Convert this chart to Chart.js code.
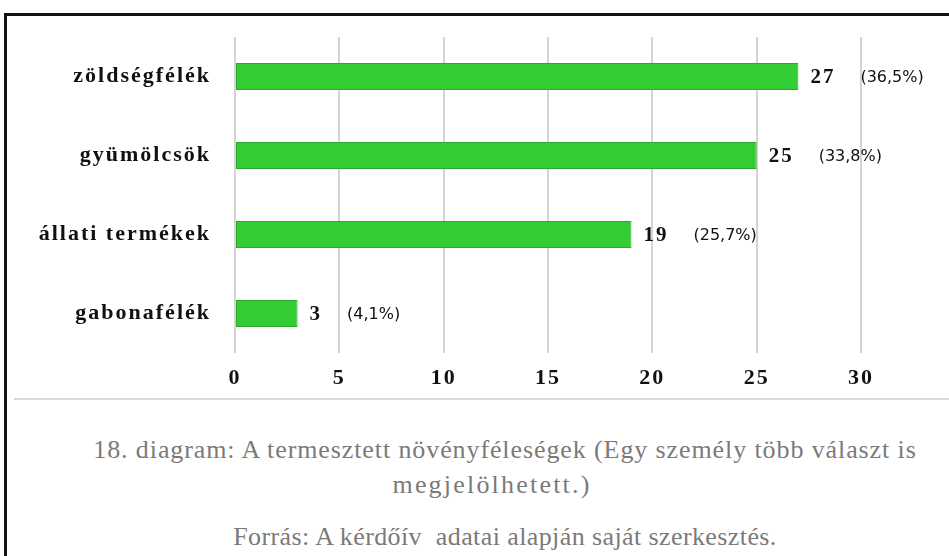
<!DOCTYPE html>
<html>
<head>
<meta charset="utf-8">
<script src="https://cdn.jsdelivr.net/npm/chart.js@4"></script>
<style>
  body { margin: 0; background: #fff; width: 949px; height: 556px; overflow: hidden; position: relative; }
  #frame { position: absolute; left: 4px; top: 13px; width: 1000px; height: 600px; border: 3px solid #111; box-sizing: border-box; }
  #sep { position: absolute; left: 14px; top: 398px; width: 940px; height: 2px; background: #d9d9d9; }
  #chart { position: absolute; left: 0; top: 0; }
  .cap { position: absolute; left: 0; width: 1010px; text-align: center; font-family: "Liberation Serif", "Times New Roman", serif; font-size: 26px; letter-spacing: 0.9px; color: #7a7a7a; white-space: nowrap; }
</style>
</head>
<body>
<div id="frame"></div>
<div id="sep"></div>
<canvas id="chart" width="949" height="400"></canvas>
<div class="cap" style="top:435px">18. diagram: A termesztett növényféleségek (Egy személy több választ is</div>
<div class="cap" style="top:470px;width:984px;letter-spacing:2.2px">megjelölhetett.)</div>
<div class="cap" style="top:522px;letter-spacing:0.4px">Forrás: A kérdőív&nbsp; adatai alapján saját szerkesztés.</div>
<script>
// categories and values
var categories = ['zöldségfélék', 'gyümölcsök', 'állati termékek', 'gabonafélék'];
var counts = [27, 25, 19, 3];
var shares = ['(36,5%)', '(33,8%)', '(25,7%)', '(4,1%)'];
var xMax = 30;
var xStep = 5;

// wider letters for the axis labels (canvas state is reset on resize, so set it here)
var spacing = {
    id: 'spacing',
    beforeDraw: function(chart) {
        chart.ctx.letterSpacing = '2px';
    }
};

// number + percentage next to each bar
var barLabels = {
    id: 'barLabels',
    afterDatasetsDraw: function(chart) {
        var ctx = chart.ctx;
        var meta = chart.getDatasetMeta(0);
        ctx.save();
        ctx.textBaseline = 'middle';
        ctx.textAlign = 'left';
        meta.data.forEach(function(bar, i) {
            var x = bar.x + 12;
            ctx.letterSpacing = '2px';
            ctx.font = 'bold 21px "Liberation Serif", serif';
            ctx.fillStyle = '#111';
            var num = String(counts[i]);
            ctx.fillText(num, x, bar.y + 1);
            var w = ctx.measureText(num).width;
            ctx.letterSpacing = '0px';
            ctx.font = '16px "DejaVu Sans", sans-serif';
            ctx.fillText(shares[i], x + w + 25, bar.y + 1);
        });
        ctx.restore();
    }
};

var ctx = document.getElementById('chart').getContext('2d');
var chart = new Chart(ctx, {
    type: 'bar',
    data: {
        labels: categories,
        datasets: [{
            data: counts,
            backgroundColor: '#33cc33',
            borderColor: '#2aaa2a',
            borderWidth: 1,
            borderSkipped: false,
            barPercentage: 0.34,
            categoryPercentage: 1
        }]
    },
    options: {
        indexAxis: 'y',
        responsive: false,
        animation: false,
        layout: { padding: { top: 37, right: 88, left: 0, bottom: 0 } },
        plugins: {
            legend: { display: false },
            tooltip: { enabled: false }
        },
        scales: {
            x: {
                min: 0,
                max: xMax,
                ticks: {
                    stepSize: xStep,
                    padding: 12,
                    color: '#111',
                    font: { family: '"Liberation Serif", serif', size: 22, weight: 'bold' }
                },
                grid: { color: '#d4d4d4', lineWidth: 2, drawTicks: false },
                border: { display: false },
                afterFit: function(s) { s.height = 47; }
            },
            y: {
                ticks: {
                    padding: 16,
                    color: '#111',
                    font: { family: '"Liberation Serif", serif', size: 22, weight: 'bold' }
                },
                grid: { display: false },
                border: { display: false },
                afterFit: function(s) { s.width = 235; }
            }
        }
    },
    plugins: [spacing, barLabels]
});
</script>
</body>
</html>
